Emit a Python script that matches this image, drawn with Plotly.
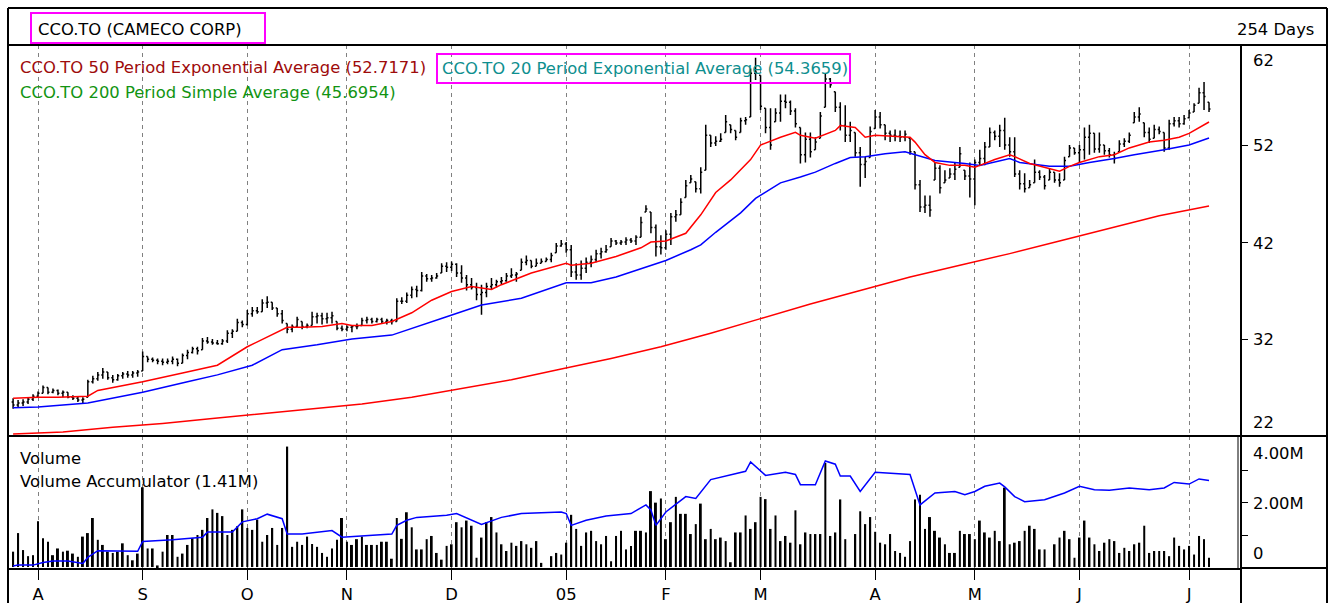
import plotly.graph_objects as go

# ---------------- data ----------------
n_bars = 241
bar_idx = list(range(n_bars))

highs = [25.9, 25.7, 25.8, 26.0, 26.3, 26.6, 27.2, 27.0, 26.9, 26.8,
         26.7, 26.5, 26.2, 26.1, 26.0, 27.8, 28.2, 28.6, 29.0, 28.6,
         28.3, 28.4, 28.6, 28.7, 28.7, 28.8, 30.7, 30.2, 30.1, 30.0,
         30.0, 30.0, 30.2, 30.0, 30.5, 30.9, 31.2, 31.2, 32.1, 32.2,
         32.0, 31.9, 32.0, 32.9, 33.0, 34.1, 33.9, 35.0, 35.3, 35.3,
         36.1, 36.4, 35.8, 35.2, 35.0, 33.6, 33.5, 34.3, 33.8, 33.6,
         34.8, 34.7, 34.7, 34.7, 34.8, 33.8, 33.4, 33.4, 33.4, 33.6,
         34.2, 34.3, 34.2, 34.2, 34.2, 34.1, 34.1, 36.2, 36.3, 36.8,
         37.4, 37.5, 38.9, 38.7, 38.6, 38.8, 39.8, 39.9, 40.0, 39.8,
         39.6, 38.6, 38.3, 37.8, 37.6, 37.8, 38.3, 38.1, 38.4, 38.8,
         39.3, 38.9, 40.3, 40.6, 40.1, 40.3, 40.3, 40.4, 40.9, 41.9,
         42.2, 42.0, 41.7, 39.8, 40.1, 40.4, 40.6, 41.2, 41.4, 41.7,
         42.4, 42.2, 42.2, 42.5, 42.4, 42.7, 44.6, 45.8, 45.1, 43.8,
         42.7, 43.2, 45.0, 45.3, 46.5, 48.4, 48.9, 48.2, 49.7, 54.1,
         53.0, 52.9, 53.2, 55.1, 54.1, 53.5, 54.8, 54.9, 59.9, 61.0,
         59.2, 55.8, 55.8, 55.8, 57.2, 57.2, 56.6, 55.8, 53.8, 53.3,
         53.3, 52.8, 55.4, 59.4, 58.9, 57.5, 56.4, 56.1, 54.4, 53.3,
         51.8, 50.8, 53.9, 55.6, 55.4, 54.1, 53.5, 53.6, 53.5, 53.5,
         52.7, 51.3, 48.4, 46.8, 46.8, 50.2, 49.9, 49.4, 49.6, 50.2,
         51.8, 49.4, 50.2, 50.5, 51.5, 52.3, 53.8, 53.5, 54.1, 54.8,
         52.8, 52.8, 49.4, 49.1, 48.4, 50.5, 49.4, 48.9, 49.6, 49.2,
         49.1, 50.8, 52.0, 51.7, 52.0, 53.8, 54.1, 53.2, 53.3, 52.0,
         51.7, 51.3, 52.5, 52.7, 53.3, 55.4, 55.9, 54.3, 53.8, 54.1,
         53.9, 53.3, 54.6, 54.9, 54.9, 55.1, 55.6, 56.3, 57.9, 58.5,
         56.4]

lows = [24.8, 25.0, 25.1, 25.3, 25.6, 26.0, 26.4, 26.3, 26.4, 26.2,
        26.0, 25.9, 25.7, 25.5, 25.3, 26.0, 27.4, 27.7, 27.9, 27.8,
        27.5, 27.7, 27.9, 28.0, 28.0, 28.1, 28.7, 29.6, 29.6, 29.4,
        29.3, 29.4, 29.4, 29.2, 29.5, 29.9, 30.5, 30.4, 30.9, 31.5,
        31.4, 31.4, 31.4, 31.6, 32.1, 32.8, 33.2, 33.4, 34.3, 34.6,
        34.8, 35.2, 35.0, 34.3, 33.6, 32.6, 32.7, 33.2, 33.0, 33.1,
        33.4, 33.6, 33.5, 33.6, 33.6, 32.9, 32.8, 32.8, 32.7, 33.0,
        33.4, 33.6, 33.6, 33.7, 33.6, 33.5, 33.5, 33.8, 35.6, 35.7,
        36.2, 36.3, 36.9, 37.9, 37.9, 38.2, 38.8, 38.9, 39.0, 38.4,
        37.8, 37.0, 37.1, 36.0, 34.5, 36.3, 37.1, 37.3, 37.6, 37.9,
        38.3, 37.9, 39.1, 39.6, 39.3, 39.5, 39.8, 40.0, 39.9, 40.9,
        41.5, 40.9, 38.4, 38.1, 38.1, 38.8, 39.4, 39.9, 40.3, 40.9,
        41.5, 41.7, 41.7, 41.7, 41.9, 41.7, 42.5, 45.1, 42.9, 40.5,
        40.7, 41.2, 41.7, 44.1, 44.8, 46.6, 48.1, 47.1, 47.0, 49.4,
        51.8, 51.9, 52.3, 53.3, 53.2, 52.5, 53.3, 54.1, 54.9, 58.7,
        55.6, 53.2, 51.5, 54.4, 54.4, 55.8, 55.1, 53.8, 50.1, 50.2,
        50.7, 51.5, 52.7, 55.9, 57.9, 55.4, 53.5, 52.3, 52.3, 50.8,
        47.7, 48.6, 50.7, 53.7, 53.7, 52.5, 52.3, 52.4, 52.3, 52.4,
        51.0, 47.4, 45.1, 45.0, 44.6, 48.4, 47.0, 48.1, 48.6, 48.4,
        49.7, 48.4, 46.6, 45.8, 49.9, 49.9, 51.8, 52.5, 51.8, 51.5,
        50.8, 48.7, 47.4, 47.1, 47.6, 48.1, 48.4, 47.4, 48.4, 48.1,
        47.7, 48.4, 50.8, 51.0, 50.2, 50.5, 51.0, 51.2, 51.2, 51.0,
        50.7, 50.1, 51.3, 51.8, 52.2, 54.3, 54.4, 52.8, 52.2, 52.7,
        53.1, 51.3, 51.5, 53.9, 53.8, 54.1, 54.8, 55.4, 56.3, 55.6,
        55.4]

closes = [25.2, 25.4, 25.5, 25.8, 26.1, 26.4, 27.0, 26.5, 26.7, 26.4,
          26.5, 26.0, 25.9, 25.7, 25.8, 27.6, 27.9, 28.3, 28.6, 28.0,
          27.8, 28.2, 28.4, 28.3, 28.5, 28.6, 30.2, 29.9, 29.8, 29.7,
          29.6, 29.7, 29.9, 29.5, 30.3, 30.6, 31.0, 30.8, 31.8, 31.7,
          31.6, 31.5, 31.8, 32.6, 32.8, 33.7, 33.5, 34.6, 34.9, 34.8,
          35.7, 35.8, 35.2, 34.6, 33.9, 33.0, 33.3, 34.0, 33.3, 33.4,
          34.3, 34.4, 34.1, 34.2, 34.4, 33.1, 33.0, 33.2, 33.3, 33.3,
          33.9, 34.0, 33.8, 34.0, 33.8, 33.9, 33.8, 35.9, 35.9, 36.5,
          37.1, 37.0, 38.5, 38.2, 38.3, 38.5, 39.5, 39.4, 39.7, 38.8,
          38.3, 37.6, 37.3, 36.6, 36.8, 37.4, 37.6, 37.9, 38.0, 38.5,
          38.6, 38.7, 39.9, 40.1, 39.5, 39.8, 40.0, 40.2, 40.6, 41.6,
          41.8, 41.2, 38.9, 38.6, 39.3, 39.9, 40.2, 40.8, 41.0, 41.2,
          42.1, 41.9, 42.0, 42.2, 42.1, 42.5, 44.0, 45.4, 43.5, 41.5,
          41.4, 42.8, 44.6, 44.8, 46.1, 47.8, 48.5, 47.5, 49.2, 53.0,
          52.2, 52.4, 52.6, 54.4, 53.6, 52.8, 54.5, 54.6, 59.4, 59.5,
          56.0, 53.8, 52.0, 55.3, 56.5, 56.4, 55.5, 54.2, 51.0, 52.6,
          51.3, 52.3, 55.0, 58.8, 58.2, 55.9, 54.0, 53.0, 53.5, 51.2,
          50.0, 50.3, 53.4, 54.9, 54.1, 53.2, 53.0, 52.9, 52.8, 53.1,
          51.3, 47.9, 45.6, 45.8, 45.3, 49.6, 47.6, 48.4, 49.0, 49.5,
          51.1, 48.8, 48.5, 50.2, 50.6, 51.8, 53.3, 52.9, 53.5, 52.0,
          51.3, 49.0, 48.0, 47.5, 47.9, 49.2, 48.7, 47.8, 49.2, 48.4,
          48.1, 50.4, 51.7, 51.2, 51.5, 52.8, 53.2, 51.6, 52.0, 51.4,
          51.0, 50.6, 52.1, 52.4, 53.0, 54.9, 55.2, 53.3, 52.6, 53.6,
          53.4, 51.7, 54.2, 54.5, 54.2, 54.7, 55.3, 56.1, 57.4, 57.0,
          55.7]

opens = [25.5, 25.2, 25.4, 25.5, 25.8, 26.1, 26.4, 27.0, 26.5, 26.7,
         26.4, 26.5, 26.0, 25.9, 25.7, 26.0, 27.6, 27.9, 28.3, 28.6,
         28.0, 27.8, 28.2, 28.4, 28.3, 28.5, 28.7, 30.2, 29.9, 29.8,
         29.7, 29.6, 29.7, 29.9, 29.5, 30.3, 30.6, 31.0, 30.9, 31.8,
         31.7, 31.6, 31.5, 31.8, 32.6, 32.8, 33.7, 33.5, 34.6, 34.9,
         34.8, 35.7, 35.8, 35.2, 34.6, 33.6, 33.0, 33.3, 33.8, 33.3,
         33.4, 34.3, 34.4, 34.1, 34.2, 33.8, 33.1, 33.0, 33.2, 33.3,
         33.4, 33.9, 34.0, 33.8, 34.0, 33.8, 33.9, 33.8, 35.9, 35.9,
         36.5, 37.1, 37.0, 38.5, 38.2, 38.3, 38.8, 39.5, 39.4, 39.7,
         38.8, 38.3, 37.6, 37.3, 36.6, 36.8, 37.4, 37.6, 37.9, 38.0,
         38.5, 38.6, 39.1, 39.9, 40.1, 39.5, 39.8, 40.0, 40.2, 40.9,
         41.6, 41.8, 41.2, 38.9, 38.6, 39.3, 39.9, 40.2, 40.8, 41.0,
         41.5, 42.1, 41.9, 42.0, 42.2, 42.1, 42.5, 45.1, 45.1, 43.5,
         41.5, 41.4, 42.8, 44.6, 44.8, 46.6, 48.1, 48.2, 47.5, 49.4,
         53.0, 52.2, 52.4, 53.3, 54.1, 53.5, 53.3, 54.5, 54.9, 59.4,
         59.2, 55.8, 53.8, 54.4, 55.3, 56.5, 56.4, 55.5, 53.8, 51.0,
         52.6, 51.5, 52.7, 55.9, 58.8, 57.5, 55.9, 54.0, 53.0, 53.3,
         51.2, 50.0, 50.7, 53.7, 54.9, 54.1, 53.2, 53.0, 52.9, 52.8,
         52.7, 51.3, 47.9, 45.6, 45.8, 48.4, 49.6, 48.1, 48.6, 49.0,
         49.7, 49.4, 48.8, 48.5, 50.2, 50.6, 51.8, 53.3, 52.9, 53.5,
         52.0, 51.3, 49.0, 48.0, 47.6, 48.1, 49.2, 48.7, 48.4, 49.2,
         48.4, 48.4, 50.8, 51.7, 51.2, 51.5, 52.8, 53.2, 51.6, 52.0,
         51.4, 51.0, 51.3, 52.1, 52.4, 54.3, 54.9, 54.3, 53.3, 52.7,
         53.6, 53.3, 51.7, 54.2, 54.5, 54.2, 54.8, 55.4, 56.3, 57.4,
         56.4]

volume_m = [0.48, 1.06, 0.53, 0.34, 0.37, 1.43, 0.90, 0.79, 0.37, 0.58,
            0.48, 0.51, 0.42, 0.32, 0.95, 1.06, 1.53, 0.85, 0.69, 0.48,
            0.44, 0.48, 0.74, 0.37, 0.21, 0.42, 2.49, 0.58, 0.58, 0.05,
            0.48, 1.00, 1.00, 0.32, 0.42, 0.69, 0.90, 1.00, 1.16, 1.53,
            1.80, 1.69, 1.59, 1.00, 1.16, 1.27, 1.80, 1.22, 1.16, 1.48,
            0.79, 1.00, 1.22, 0.69, 1.22, 3.76, 0.63, 0.79, 0.69, 0.95,
            0.72, 0.63, 0.44, 0.32, 0.58, 0.85, 1.53, 0.79, 0.69, 0.87,
            0.95, 0.69, 0.69, 0.69, 0.79, 0.79, 0.26, 1.53, 0.88, 1.71,
            1.24, 0.55, 0.55, 0.87, 0.97, 0.44, 0.23, 0.66, 0.71, 1.40,
            1.24, 1.45, 1.29, 0.29, 0.92, 1.40, 1.56, 1.08, 0.71, 0.50,
            0.76, 0.66, 0.81, 0.71, 0.60, 0.81, 0.13, 0.00, 0.34, 0.44,
            0.39, 0.76, 1.63, 1.19, 0.66, 1.08, 1.13, 0.81, 0.71, 0.97,
            0.18, 0.97, 1.13, 0.55, 0.66, 1.13, 1.13, 1.08, 2.37, 2.01,
            2.14, 0.87, 1.40, 2.19, 1.66, 1.66, 1.03, 1.34, 1.98, 0.87,
            1.19, 0.87, 0.92, 0.81, 0.15, 1.08, 1.08, 1.61, 1.19, 1.40,
            2.19, 2.12, 1.19, 1.61, 0.81, 0.97, 0.76, 1.77, 0.71, 1.08,
            1.03, 1.03, 1.03, 3.25, 0.97, 1.08, 2.11, 0.87, 0.00, 1.03,
            1.74, 1.34, 1.56, 1.10, 0.76, 0.71, 1.03, 0.50, 0.44, 0.32,
            0.81, 2.11, 2.26, 1.19, 1.56, 1.13, 0.92, 0.71, 0.44, 0.44,
            1.13, 1.03, 1.03, 0.87, 1.45, 1.08, 0.92, 1.13, 0.81, 2.48,
            0.71, 0.76, 0.81, 1.13, 1.29, 1.19, 0.55, 0.55, 0.00, 0.71,
            0.92, 1.13, 0.87, 0.29, 0.92, 1.45, 0.92, 0.71, 0.50, 0.76,
            0.87, 0.81, 0.44, 0.60, 0.50, 0.71, 0.76, 1.29, 0.44, 0.50,
            0.50, 0.50, 0.34, 0.92, 0.66, 0.55, 0.66, 0.39, 0.97, 0.87,
            0.29]

# moving averages at the bars where they were legible
ema20_idx = [0, 5, 9, 15, 17, 26, 34, 41, 47, 52, 55, 58, 62, 66, 68, 72, 76,
             80, 84, 88, 92, 96, 98, 104, 111, 112, 116, 121, 126, 128, 131,
             135, 138, 141, 144, 148, 150, 154, 157, 158, 161, 165, 166, 169,
             171, 173, 178, 180, 181, 183, 185, 188, 191, 193, 194, 197, 200,
             201, 204, 208, 210, 212, 214, 218, 221, 224, 228, 231, 234, 236,
             238, 240]
ema20 = [25.9, 26.0, 26.0, 26.1, 26.7, 27.6, 28.5, 29.3, 31.2, 32.4, 33.2,
         33.2, 33.3, 33.6, 33.4, 33.4, 33.8, 34.7, 36.0, 36.9, 37.4, 37.1,
         37.6, 38.8, 39.8, 39.6, 39.8, 40.5, 41.4, 42.0, 42.1, 42.9, 44.8,
         47.1, 48.4, 50.5, 52.0, 52.8, 53.3, 53.0, 52.7, 53.5, 54.0, 53.8,
         52.8, 53.0, 52.9, 52.8, 52.3, 51.0, 50.2, 49.9, 49.9, 49.7, 49.9,
         50.5, 51.0, 50.8, 50.1, 49.6, 49.3, 49.8, 50.2, 50.8, 51.0, 51.7,
         52.3, 52.5, 52.8, 53.2, 53.8, 54.37]
ema50_idx = [0, 5, 15, 26, 35, 41, 48, 54, 61, 68, 76, 82, 87, 94, 102, 111,
             116, 121, 128, 131, 136, 138, 141, 146, 149, 154, 158, 161, 165,
             168, 171, 175, 179, 183, 185, 191, 194, 200, 202, 208, 212, 216,
             221, 225, 231, 236, 240]
ema50 = [24.9, 25.0, 25.4, 26.5, 27.6, 28.3, 29.3, 30.9, 31.4, 32.0, 32.4,
         33.4, 34.3, 35.5, 36.2, 37.8, 37.8, 38.4, 39.6, 40.1, 41.2, 41.7,
         43.0, 45.0, 46.5, 48.1, 48.7, 49.2, 50.1, 50.7, 50.8, 51.1, 51.3,
         50.7, 50.4, 50.1, 49.9, 50.6, 50.2, 49.8, 49.8, 50.2, 50.6, 51.0,
         51.5, 52.0, 52.72]
sma_idx = list(range(0, 241, 10))
sma200 = [22.2, 22.4, 22.9, 23.3, 23.8, 24.3, 24.8, 25.3, 26.0, 26.9,
          27.8, 28.9, 30.0, 31.2, 32.6, 34.1, 35.6, 37.0, 38.4, 39.6,
          40.8, 42.1, 43.4, 44.7, 45.70]

acc_idx = [0, 1, 4, 6, 8, 11, 14, 15, 17, 25, 26, 32, 38, 39, 44, 46, 49, 51,
           54, 55, 58, 64, 66, 71, 76, 77, 79, 81, 87, 89, 94, 98, 102, 110,
           111, 112, 115, 119, 124, 127, 128, 129, 131, 135, 137, 140, 144,
           147, 148, 151, 155, 157, 158, 161, 163, 165, 166, 168, 170, 173,
           180, 182, 185, 189, 191, 193, 195, 198, 199, 201, 203, 207, 211,
           214, 217, 220, 224, 228, 231, 233, 236, 238, 240]
acc_val = [0.03, 0.06, 0.06, 0.14, 0.19, 0.19, 0.11, 0.30, 0.51, 0.49,
           0.80, 0.85, 0.93, 1.09, 1.09, 1.41, 1.51, 1.65, 1.51, 1.03,
           1.03, 1.14, 0.93, 0.98, 1.03, 1.30, 1.46, 1.55, 1.62, 1.67,
           1.33, 1.55, 1.67, 1.72, 1.67, 1.30, 1.46, 1.59, 1.67, 1.94,
           1.78, 1.30, 1.72, 2.20, 2.14, 2.73, 2.89, 2.99, 3.28, 2.86,
           2.96, 2.89, 2.57, 2.57, 3.31, 3.21, 2.84, 2.84, 2.36, 2.96,
           2.89, 1.94, 2.31, 2.36, 2.26, 2.36, 2.52, 2.62, 2.50, 2.20,
           2.04, 2.10, 2.31, 2.52, 2.41, 2.40, 2.47, 2.41, 2.47, 2.64,
           2.59, 2.75, 2.70]

month_idx = [5, 26, 47, 67, 88, 111, 131, 150, 173, 193, 214, 236]
month_labels = ["A", "S", "O", "N", "D", "05", "F", "M", "A", "M", "J", "J"]

price_ticks = [62, 52, 42, 32, 22]
vol_tick_labels = ["4.00M", "2.00M", "0"]

assert len(highs) == n_bars and len(lows) == n_bars and len(closes) == n_bars
assert len(opens) == n_bars and len(volume_m) == n_bars
assert len(ema20) == len(ema20_idx), (len(ema20), len(ema20_idx))
assert len(ema50) == len(ema50_idx), (len(ema50), len(ema50_idx))
assert len(sma200) == len(sma_idx) and len(acc_idx) == len(acc_val)

# ---------------- layout helpers ----------------
W, H = 1331, 603
def X(p):
    return p / W
def Y(p):
    return 1 - p / H

FONT = "DejaVu Sans, Verdana, sans-serif"
FS = 16.4

x_left, x_right = 9, 1241
bar0, step = 13.1, 4.983
x_range = [(x_left - bar0) / step, (x_right - bar0) / step]

fig = go.Figure()

fig.add_trace(go.Ohlc(
    x=bar_idx, open=opens, high=highs, low=lows, close=closes,
    xaxis="x", yaxis="y",
    increasing=dict(line=dict(color="black", width=1.5)),
    decreasing=dict(line=dict(color="black", width=1.5)),
    tickwidth=0.3, hoverinfo="skip", showlegend=False))

fig.add_trace(go.Scatter(x=sma_idx, y=sma200, mode="lines", xaxis="x", yaxis="y",
                         line=dict(color="#FF0000", width=1.5), hoverinfo="skip"))
fig.add_trace(go.Scatter(x=ema50_idx, y=ema50, mode="lines", xaxis="x", yaxis="y",
                         line=dict(color="#0000FF", width=1.5), hoverinfo="skip"))
fig.add_trace(go.Scatter(x=ema20_idx, y=ema20, mode="lines", xaxis="x", yaxis="y",
                         line=dict(color="#FF0000", width=1.5), hoverinfo="skip"))

fig.add_trace(go.Bar(x=bar_idx, y=volume_m, xaxis="x2", yaxis="y2", width=0.4,
                     marker=dict(color="black", line=dict(width=0)), hoverinfo="skip"))
fig.add_trace(go.Scatter(x=acc_idx, y=acc_val, mode="lines", xaxis="x2", yaxis="y2",
                         line=dict(color="#0000FF", width=1.5), hoverinfo="skip"))

grid = dict(showgrid=True, gridcolor="#808080", griddash="4px,4px", gridwidth=1)

fig.update_layout(
    width=W, height=H, margin=dict(l=0, r=0, t=0, b=0, pad=0),
    paper_bgcolor="white", plot_bgcolor="white", showlegend=False,
    font=dict(family=FONT, size=FS, color="black"),
    xaxis=dict(domain=[X(x_left), X(x_right)], range=x_range, anchor="y",
               tickvals=month_idx, showticklabels=False, ticks="",
               zeroline=False, showline=False, rangeslider=dict(visible=False),
               fixedrange=True, **grid),
    yaxis=dict(domain=[Y(436), Y(45)], range=[22, 62.31], side="right", anchor="x",
               tickvals=[32, 42, 52], ticks="outside", ticklen=6, tickwidth=1,
               tickcolor="black", showticklabels=False, showgrid=False,
               zeroline=False, showline=False, fixedrange=True),
    xaxis2=dict(domain=[X(x_left), X(x_right)], range=x_range, anchor="y2",
                tickvals=month_idx, ticktext=month_labels, ticks="outside",
                ticklen=10, tickwidth=1, tickcolor="black", showline=True,
                linecolor="black", linewidth=2, zeroline=False,
                tickfont=dict(family=FONT, size=FS, color="black"),
                fixedrange=True, **grid),
    yaxis2=dict(domain=[Y(568), Y(436)], range=[-0.03, 4.09], side="right",
                anchor="x2", tickvals=[1, 2, 3], ticks="outside", ticklen=6,
                tickwidth=1, tickcolor="black", showticklabels=False,
                showgrid=False, zeroline=False, showline=False, fixedrange=True),
)

def hline(y, x0, x1, w=2, color="black"):
    return dict(type="line", xref="paper", yref="paper", x0=X(x0), x1=X(x1),
                y0=Y(y), y1=Y(y), line=dict(color=color, width=w), layer="above")
def vline(x, y0, y1, w=2, color="black"):
    return dict(type="line", xref="paper", yref="paper", x0=X(x), x1=X(x),
                y0=Y(y0), y1=Y(y1), line=dict(color=color, width=w), layer="above")

shapes = [
    hline(8, 8, 1327), vline(8, 8, 603), vline(1327, 8, 603),
    hline(45, 8, 1327), vline(1241, 45, 603), hline(436, 8, 1327),
    hline(568, 1241, 1327), vline(1238, 436, 568, w=1),
    dict(type="rect", xref="paper", yref="paper", x0=X(31), x1=X(265),
         y0=Y(43), y1=Y(13), line=dict(color="#FF00FF", width=2), layer="above"),
    dict(type="rect", xref="paper", yref="paper", x0=X(437), x1=X(850),
         y0=Y(83), y1=Y(54), line=dict(color="#FF00FF", width=2), layer="above"),
]
fig.update_layout(shapes=shapes)

def label(text, x, y, color="black", xanchor="left"):
    return dict(text=text, xref="paper", yref="paper", x=X(x), y=Y(y),
                xanchor=xanchor, yanchor="middle", showarrow=False,
                font=dict(family=FONT, size=FS, color=color))

annotations = [
    label("CCO.TO (CAMECO CORP)", 36, 29),
    label("254 Days", 1316, 29, xanchor="right"),
    label("CCO.TO 50 Period Exponential Average (52.7171)", 18, 67, color="#9E0B0B"),
    label("CCO.TO 200 Period Simple Average (45.6954)", 18, 93, color="#129412"),
    label("CCO.TO 20 Period Exponential Average (54.3659)", 440, 68, color="#0E8F8F"),
    label("Volume", 18, 458),
    label("Volume Accumulator (1.41M)", 18, 481),
]
price_label_y = [61, 145, 243, 339, 422]
for t, py in zip(price_ticks, price_label_y):
    annotations.append(label(str(t), 1251, py))
for t, py in zip(vol_tick_labels, [453, 503, 553]):
    annotations.append(label(t, 1251, py))
fig.update_layout(annotations=annotations)

fig.write_html("out.html")
